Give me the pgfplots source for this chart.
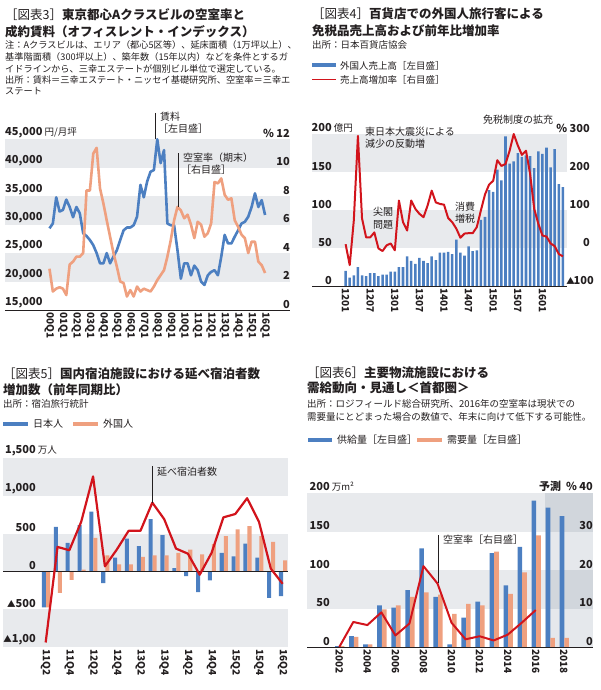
\documentclass[border=0pt]{standalone}
\usepackage{pgfplots}
\pgfplotsset{compat=1.18}
\usepackage{fontspec}
\setmainfont{Noto Sans CJK JP}

\definecolor{cblue}{HTML}{4C7FC1}
\definecolor{corange}{HTML}{EFA07F}
\definecolor{cred}{HTML}{D2141C}
\definecolor{band}{HTML}{E8EAED}
\definecolor{ink}{HTML}{231F20}

\newcommand{\fs}[1]{\fontsize{#1}{#1}\selectfont}
\newcommand{\tri}{{\fs{8.5}▲}}

\pgfplotsset{
  base/.style={scale only axis, clip=false, axis on top, scaled ticks=false,
    axis line style={draw=none}, tick style={draw=none},
    axis x line*=bottom, axis y line*=left,
    yticklabel style={anchor=south west, inner xsep=0pt, inner ysep=1.5pt, font=\bfseries\fs{11}, text=ink},
    xticklabel style={rotate=-90, anchor=west, inner sep=2pt, font=\bfseries\fs{10}, text=ink},
  },
  twin/.style={scale only axis, clip=false, axis on top, scaled ticks=false,
    axis line style={draw=none}, tick style={draw=none},
    axis x line=none, axis y line*=right, xtick=\empty,
    yticklabel style={anchor=south east, inner xsep=0pt, inner ysep=1.5pt, font=\bfseries\fs{11}, text=ink},
  },
}
\tikzset{
  title/.style={anchor=west, inner sep=0pt, font=\bfseries\fs{12.5}, text=ink},
  note/.style={anchor=west, inner sep=0pt, font=\fs{9.2}, text=ink},
  ann/.style={anchor=west, inner sep=0pt, font=\fs{10}, text=ink},
}

\begin{document}
\begin{tikzpicture}
\useasboundingbox (0,0) rectangle (600pt,-690pt);

% ---------- panel 3 (top left) ----------
\node[title] at (5pt,-15pt) {{\mdseries ［図表3］}東京都心Aクラスビルの空室率と};
\node[title] at (5pt,-32pt) {成約賃料（オフィスレント・インデックス）};
\node[note] at (5pt,-45pt) {注：Aクラスビルは、エリア（都心5区等）、延床面積（1万坪以上）、};
\node[note] at (5pt,-57pt) {基準階面積（300坪以上）、築年数（15年以内）などを条件とするガ};
\node[note] at (5pt,-68.5pt) {イドラインから、三幸エステートが個別ビル単位で選定している。};
\node[note] at (5pt,-80pt) {出所：賃料＝三幸エステート・ニッセイ基礎研究所、空室率＝三幸エ};
\node[note] at (5pt,-91.5pt) {ステート};

\begin{axis}[base, at={(5pt,-310pt)}, anchor=south west, width=285pt, height=170.7pt,
  xmin=-13.2, xmax=71.4, ymin=15000, ymax=45000,
  ytick={15000,20000,25000,30000,35000,40000,45000},
  yticklabels={{15,000},{20,000},{25,000},{30,000},{35,000},{40,000},{45,000\rlap{\mdseries\fs{9.5}\ 円/月坪}}},
  xtick={0,4,...,64},
  xticklabels={00Q1,01Q1,02Q1,03Q1,04Q1,05Q1,06Q1,07Q1,08Q1,09Q1,10Q1,11Q1,12Q1,13Q1,14Q1,15Q1,16Q1}]
\fill[band] (-13.2,40000) rectangle (71.4,45000);
\fill[band] (-13.2,30000) rectangle (71.4,35000);
\fill[band] (-13.2,20000) rectangle (71.4,25000);
\draw[ink, line width=1pt] (-13.2,15000) -- (71.4,15000);
\addplot[cblue, line width=2.6pt, line join=round] coordinates {
(0,29350)(1,30200)(2,34800)(3,32300)(4,32600)(5,34400)(6,33100)(7,31300)(8,33100)(9,32000)
(10,28500)(11,28000)(12,27300)(13,26400)(14,25000)(15,23200)(16,23200)(17,25000)(18,23200)(19,24400)
(20,25500)(21,27300)(22,29000)(23,29500)(24,29500)(25,29900)(26,31400)(27,37000)(28,34800)(29,37600)
(30,39300)(31,39600)(32,45000)(33,40800)(34,43100)(35,30200)(36,29900)(37,29900)(38,25500)(39,20500)
(40,23200)(41,23200)(42,21100)(43,22800)(44,22000)(45,20000)(46,19400)(47,21100)(48,21700)(49,22000)
(50,21100)(51,24400)(52,28200)(53,26700)(54,26700)(55,27900)(56,29000)(57,30200)(58,30500)(59,31400)
(60,33100)(61,35500)(62,33100)(63,34300)(64,31700)};
\end{axis}
\begin{axis}[twin, at={(5pt,-310pt)}, anchor=south west, width=285pt, height=170.7pt,
  xmin=-13.2, xmax=71.4, ymin=0, ymax=12,
  ytick={0,2,...,12}, yticklabels={0,2,4,6,8,10,\llap{\%\ }12}]
\addplot[corange, line width=2.6pt, line join=round] coordinates {
(0,2.9)(1,1.3)(2,1.5)(3,1.6)(4,1.5)(5,1.05)(6,3.2)(7,3.4)(8,3.75)(9,3.75)
(10,4.0)(11,8.4)(12,8.4)(13,11.0)(14,11.4)(15,8.55)(16,7.5)(17,6.3)(18,5.15)(19,4.0)
(20,3.05)(21,2.0)(22,1.9)(23,0.95)(24,1.4)(25,0.95)(26,1.65)(27,1.3)(28,1.5)(29,1.4)
(30,1.3)(31,1.65)(32,2.1)(33,2.45)(34,2.8)(35,3.75)(36,4.9)(37,6.3)(38,7.25)(39,7.0)
(40,6.45)(41,6.7)(42,6.0)(43,5.05)(44,6.2)(45,6.0)(46,5.15)(47,5.4)(48,6.1)(49,9.0)
(50,8.9)(51,9.25)(52,8.1)(53,7.75)(54,7.85)(55,6.3)(56,5.85)(57,5.3)(58,5.05)(59,4.0)
(60,4.8)(61,4.8)(62,3.4)(63,3.15)(64,2.6)};
\end{axis}
\draw[ink, line width=0.8pt] (155pt,-113pt) -- (155pt,-139pt);
\node[ann] at (160pt,-117pt) {賃料};
\node[ann] at (158pt,-129pt) {［左目盛］};
\draw[ink, line width=0.8pt] (178pt,-153pt) -- (178pt,-207pt);
\node[ann] at (183pt,-158pt) {空室率（期末）};
\node[ann] at (181pt,-170pt) {［右目盛］};

% ---------- panel 4 (top right) ----------
\node[title] at (312pt,-14pt) {{\mdseries ［図表4］}百貨店での外国人旅行客による};
\node[title] at (312pt,-31pt) {免税品売上高および前年比増加率};
\node[note, font=\fs{9.5}] at (312pt,-45pt) {出所：日本百貨店協会};
\fill[cblue] (312pt,-63.5pt) rectangle (336pt,-67.5pt);
\node[note, font=\fs{9.5}] at (340pt,-65.5pt) {外国人売上高［左目盛］};
\draw[cred, line width=1.6pt] (312pt,-79.5pt) -- (336pt,-79.5pt);
\node[note, font=\fs{9.5}] at (340pt,-79.5pt) {売上高増加率［右目盛］};

\begin{axis}[base, at={(312pt,-286pt)}, anchor=south west, width=255pt, height=152pt,
  xmin=-8.2, xmax=54.0, ymin=0, ymax=200,
  ytick={0,50,100,150,200},
  yticklabels={0,50,100,150,200\rlap{\mdseries\fs{9.5}\ 億円}},
  yticklabel style={anchor=south east, xshift=20pt},
  xtick={0,6,...,48},
  xticklabels={1201,1207,1301,1307,1401,1407,1501,1507,1601}]
\fill[band] (-8.2,150) rectangle (54.0,200);
\fill[band] (-8.2,50) rectangle (54.0,100);
\addplot[ybar, bar width=0.62, bar shift=0, fill=cblue, draw=none] coordinates {
(0,20)(1,11)(2,14)(3,25)(4,14)(5,13)(6,17)(7,17)(8,13)(9,15)
(10,15)(11,19)(12,19)(13,25)(14,25)(15,39)(16,33)(17,29)(18,37)(19,33)
(20,30)(21,39)(22,34)(23,44)(24,44)(25,45)(26,42)(27,61)(28,44)(29,40)
(30,52)(31,46)(32,47)(33,87)(34,91)(35,126)(36,124)(37,153)(38,139)(39,197)
(40,161)(41,164)(42,175)(43,170)(44,172)(45,171)(46,155)(47,177)(48,174)(49,182)
(50,156)(51,180)(52,134)(53,130)};
\draw[ink, line width=1pt] (-8.2,0) -- (54.0,0);
\end{axis}
\begin{axis}[twin, at={(312pt,-286pt)}, anchor=south west, width=255pt, height=152pt,
  xmin=-8.2, xmax=54.0, ymin=-100, ymax=300,
  ytick={0,100,200,300}, yticklabels={0,100,200,\llap{\%\ }300},
  yticklabel style={xshift=23pt}]
\addplot[cred, line width=2pt, line join=round] coordinates {
(0,10)(1,-45)(2,73)(3,295)(4,78)(5,28)(6,28)(7,41)(8,-1)(9,-8)
(10,7)(11,12)(12,-6)(13,125)(14,68)(15,46)(16,125)(17,103)(18,90)(19,81)
(20,112)(21,151)(22,120)(23,116)(24,114)(25,79)(26,68)(27,51)(28,27)(29,38)
(30,39)(31,39)(32,55)(33,99)(34,141)(35,167)(36,177)(37,231)(38,216)(39,221)
(40,256)(41,300)(42,270)(43,245)(44,256)(45,195)(46,103)(47,64)(48,33)(49,30)
(50,12)(51,5)(52,-16)(53,-22)};
\end{axis}
\node[anchor=base east, inner sep=0pt, font=\bfseries\fs{11}, text=ink] at (594pt,-284pt) {100};
\node[anchor=base east, inner sep=0pt, font=\fs{8.5}, text=ink] at (575pt,-284pt) {▲};
\node[ann] at (365pt,-132pt) {東日本大震災による};
\node[ann] at (365pt,-143.5pt) {減少の反動増};
\node[ann] at (373pt,-212pt) {尖閣};
\node[ann] at (373pt,-225pt) {問題};
\node[ann] at (455pt,-207pt) {消費};
\node[ann] at (455pt,-219pt) {増税};
\node[ann, anchor=center] at (518pt,-120pt) {免税制度の拡充};

% ---------- panel 5 (bottom left) ----------
\node[title] at (3pt,-374pt) {{\mdseries ［図表5］}国内宿泊施設における延べ宿泊者数};
\node[title] at (3pt,-390pt) {増加数（前年同期比）};
\node[note, font=\fs{9.5}] at (3pt,-404pt) {出所：宿泊旅行統計};
\fill[cblue] (3pt,-422pt) rectangle (28pt,-426pt);
\node[ann] at (33pt,-424pt) {日本人};
\fill[corange] (73pt,-422pt) rectangle (98pt,-426pt);
\node[ann] at (103pt,-424pt) {外国人};

\begin{axis}[base, at={(3pt,-647pt)}, anchor=south west, width=285pt, height=189pt,
  xmin=-3.6, xmax=20.45, ymin=-1000, ymax=1500,
  ytick={-1000,-500,0,500,1000,1500},
  yticklabels={{\tri1,00},{\tri500},0,500,{1,000},{1,500\rlap{\mdseries\fs{9.5}\ 万人}}},
  yticklabel style={anchor=south east, xshift=33pt},
  xtick={0,2,...,20},
  xticklabels={11Q2,11Q4,12Q2,12Q4,13Q2,13Q4,14Q2,14Q4,15Q2,15Q4,16Q2}]
\fill[band] (-3.6,1000) rectangle (20.45,1500);
\fill[band] (-3.6,0) rectangle (20.45,500);
\fill[band] (-3.6,-1000) rectangle (20.45,-500);
\addplot[ybar, bar width=0.34, bar shift=-0.14, fill=cblue, draw=none] coordinates {
(0,-475)(1,590)(2,377)(3,612)(4,790)(5,-155)(6,182)(7,435)(8,333)(9,692)
(10,479)(11,44)(12,-62)(13,-275)(14,-120)(15,244)(16,200)(17,368)(18,182)(19,-350)(20,-328)};
\addplot[ybar, bar width=0.34, bar shift=0.2, fill=corange, draw=none] coordinates {
(0,-475)(1,-284)(2,-111)(3,22)(4,444)(5,213)(6,93)(7,93)(8,191)(9,213)
(10,213)(11,244)(12,288)(13,226)(14,360)(15,466)(16,555)(17,600)(18,466)(19,390)(20,146)};
\draw[ink, line width=1pt] (-3.6,0) -- (20.45,0);
\addplot[cred, line width=2.2pt, line join=round] coordinates {
(0,-940)(1,324)(2,280)(3,657)(4,1256)(5,67)(6,288)(7,537)(8,537)(9,910)
(10,692)(11,302)(12,235)(13,-44)(14,245)(15,715)(16,759)(17,968)(18,657)(19,36)(20,-164)};
\end{axis}
\draw[ink, line width=0.8pt] (152pt,-466pt) -- (152pt,-503pt);
\node[ann] at (157pt,-472pt) {延べ宿泊者数};

% ---------- panel 6 (bottom right) ----------
\node[title] at (307pt,-373pt) {{\mdseries ［図表6］}主要物流施設における};
\node[title] at (307pt,-388pt) {需給動向・見通し＜首都圏＞};
\node[note, font=\fs{9.5}] at (307pt,-404pt) {出所：ロジフィールド総合研究所、2016年の空室率は現状での};
\node[note, font=\fs{9.5}] at (307pt,-417pt) {需要量にとどまった場合の数値で、年末に向けて低下する可能性。};
\fill[cblue] (308pt,-438pt) rectangle (332pt,-442pt);
\node[ann] at (337pt,-440pt) {供給量［左目盛］};
\fill[corange] (417pt,-438pt) rectangle (442pt,-442pt);
\node[ann] at (447pt,-440pt) {需要量［左目盛］};

\begin{axis}[base, at={(307pt,-647pt)}, anchor=south west, width=286pt, height=154pt,
  xmin=1999.7, xmax=2020.08, ymin=0, ymax=200,
  ytick={0,50,100,150,200},
  yticklabels={0,50,100,150,200\rlap{\mdseries\fs{9.5}\ 万m²}},
  yticklabel style={anchor=south east, xshift=23pt},
  xtick={2002,2004,...,2018},
  xticklabels={2002,2004,2006,2008,2010,2012,2014,2016,2018}]
\fill[band] (1999.7,150) rectangle (2020.08,200);
\fill[band] (1999.7,50) rectangle (2020.08,100);
\fill[fill={rgb,255:red,110;green,128;blue,148}, opacity=0.18] (2016.67,0) rectangle (2020.08,200);
\addplot[ybar, bar width=0.33, bar shift=-0.13, fill=cblue, draw=none] coordinates {
(2002,1)(2003,14)(2004,3.5)(2005,54)(2006,51)(2007,74)(2008,128)(2009,65)(2010,3.5)
(2011,38)(2012,59)(2013,122)(2014,80)(2015,130)(2016,190)(2017,181)(2018,170)};
\addplot[ybar, bar width=0.33, bar shift=0.2, fill=corange, draw=none] coordinates {
(2002,1)(2003,13)(2004,3.5)(2005,49)(2006,54)(2007,65)(2008,71)(2009,68)(2010,43)
(2011,56)(2012,54)(2013,124)(2014,69)(2015,97)(2016,145)(2017,12)(2018,12)};
\draw[ink, line width=1pt] (1999.7,0) -- (2020.08,0);
\end{axis}
\begin{axis}[twin, at={(307pt,-647pt)}, anchor=south west, width=286pt, height=154pt,
  xmin=1999.7, xmax=2020.08, ymin=0, ymax=40,
  ytick={0,10,20,30,40}, yticklabels={0,10,20,30,\llap{予測\ \ \%\ }40}]
\addplot[cred, line width=2pt, line join=round] coordinates {
(2002,0)(2003,6.5)(2004,5.7)(2005,9.0)(2006,3.0)(2007,6.1)(2008,21.0)(2009,16.5)
(2010,6.3)(2011,2.0)(2012,2.8)(2013,1.7)(2014,3.2)(2015,6.3)(2016,9.6)};
\end{axis}
\draw[ink, line width=0.8pt] (438pt,-535pt) -- (438pt,-583pt);
\node[ann] at (443pt,-540pt) {空室率［右目盛］};
\end{tikzpicture}
\end{document}
